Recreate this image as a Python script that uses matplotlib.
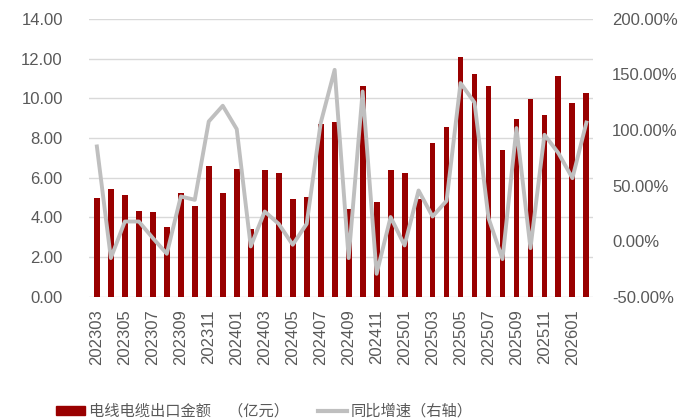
import matplotlib
matplotlib.use('Agg')
import matplotlib.pyplot as plt
from matplotlib.ticker import FuncFormatter
from matplotlib.patches import Patch
from matplotlib.lines import Line2D

plt.rcParams['font.family'] = ['Liberation Sans', 'Noto Sans CJK SC', 'DejaVu Sans']
plt.rcParams['axes.unicode_minus'] = False

months = ['202303', '202304', '202305', '202306', '202307', '202308', '202309', '202310',
          '202311', '202312', '202401', '202402', '202403', '202404', '202405', '202406',
          '202407', '202408', '202409', '202410', '202411', '202412', '202501', '202502',
          '202503', '202504', '202505', '202506', '202507', '202508', '202509', '202510',
          '202511', '202512', '202601', '202602']
export_amt = [5.00, 5.45, 5.15, 4.33, 4.28, 3.52, 5.22, 4.58, 6.60, 5.24, 6.45, 3.42,
              6.39, 6.24, 4.93, 5.04, 8.71, 8.81, 4.43, 10.62, 4.75, 6.39, 6.24, 4.93,
              7.75, 8.53, 12.07, 11.23, 10.62, 7.37, 8.96, 9.95, 9.18, 11.14, 9.78, 10.24]
yoy_pct = [85.2, -15.2, 17.7, 17.7, 2.8, -11.3, 40.2, 37.2, 107.7, 121.8, 100.8, -4.7,
           26.7, 15.6, -3.2, 15.6, 106.2, 154.1, -15.2, 134.6, -29.3, 21.7, -3.8, 45.6,
           22.2, 36.3, 142.2, 124.7, 20.8, -16.1, 101.7, -6.2, 95.7, 79.2, 56.7, 106.7]

RED, GREY, GRID, TXT = '#990000', '#BFBFBF', '#D9D9D9', '#595959'

fig = plt.figure(figsize=(6.86, 4.18), dpi=100, facecolor='white')
ax = fig.add_axes([0.130, 0.290, 0.734, 0.665])
x = list(range(len(months)))
ax.bar(x, export_amt, width=0.42, color=RED, zorder=2)
ax.set_ylim(0, 14)
ax.set_yticks(range(0, 15, 2))
ax.yaxis.set_major_formatter(FuncFormatter(lambda v, p: f'{v:.2f}'))
ax.set_xlim(-0.55, 35.45)
ax.set_xticks(x[::2])
ax.set_xticklabels(months[::2], rotation=90)
ax.grid(axis='y', color=GRID, lw=1, zorder=0)
ax.set_axisbelow(True)
for s in ax.spines.values():
    s.set_visible(False)
ax.tick_params(axis='y', length=0, pad=19, labelsize=12, labelcolor=TXT)
ax.tick_params(axis='x', length=0, pad=9, labelsize=12, labelcolor=TXT)

ax2 = ax.twinx()
ax2.plot(x, yoy_pct, color=GREY, lw=2.8, zorder=3)
ax2.set_ylim(-50, 200)
ax2.set_yticks(range(-50, 201, 50))
ax2.yaxis.set_major_formatter(FuncFormatter(lambda v, p: f'{v:.2f}%'))
for s in ax2.spines.values():
    s.set_visible(False)
ax2.tick_params(axis='y', length=0, pad=14, labelsize=12, labelcolor=TXT)

# 底部图例
handles = [Patch(facecolor=RED, edgecolor=RED),
           Line2D([0], [0], color=GREY, lw=3)]
labels = ['电线电缆出口金额    （亿元）', '同比增速（右轴）']
fig.legend(handles, labels, loc='lower left', bbox_to_anchor=(0.062, -0.035), ncol=2,
           frameon=False, fontsize=11, handlelength=1.9, handleheight=0.55,
           handletextpad=0.25, columnspacing=1.9, labelcolor=TXT)

fig.savefig('out.png', dpi=100, facecolor='white')
